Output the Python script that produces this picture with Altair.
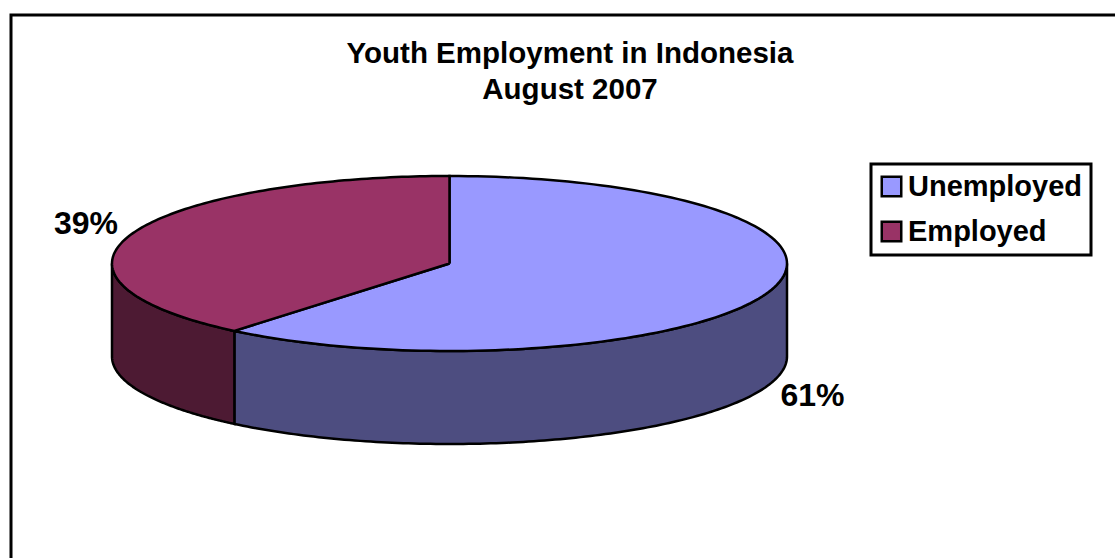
import numpy as np
import pandas as pd
import altair as alt

# Chart values
categories = ["Unemployed", "Employed"]
shares = [61, 39]
top_colors = ["#9999FF", "#993366"]
side_colors = ["#4D4D80", "#4D1A33"]
title_lines = ["Youth Employment in Indonesia", "August 2007"]

# Canvas and tilted-disc geometry, in pixels
W, H = 1115, 558
CX, CY, RX, RY, DEPTH = 449.5, 263.5, 337.5, 87.5, 93
FONT = "Liberation Sans"


def rim(a0, a1, drop=0.0):
    """Points on the disc edge, angles in degrees clockwise from 12 o'clock."""
    t = np.radians(np.linspace(a0, a1, 140))
    return list(zip(CX + RX * np.sin(t), CY - RY * np.cos(t) + drop))


def frame_of(points, **extra):
    df = pd.DataFrame(points, columns=["x", "y"])
    df["i"] = range(len(df))
    for key, val in extra.items():
        df[key] = val
    return df


split = 360 * shares[0] / sum(shares)

# Visible outer wall of each slice: front half of the disc only
wall_spans = [(90, split), (split, 270)]
walls = []
for span, colour in zip(wall_spans, side_colors):
    upper = rim(*span)
    lower = rim(*span, drop=DEPTH)
    walls.append((frame_of(upper + lower[::-1] + upper[:1]), colour))

# Top faces of the slices
centre = [(CX, CY)]
tops = pd.concat([
    frame_of(centre + rim(0, split) + centre, category=categories[0]),
    frame_of(centre + rim(split, 360) + centre, category=categories[1]),
])

x_enc = alt.X("x:Q", scale=alt.Scale(domain=[0, W], nice=False, zero=False), axis=None)
y_enc = alt.Y("y:Q", scale=alt.Scale(domain=[H, 0], nice=False, zero=False), axis=None)

border = alt.Chart(frame_of([(11, H), (11, 15), (W, 15)])).mark_line(
    color="black", strokeWidth=3, strokeJoin="miter"
).encode(x=x_enc, y=y_enc, order="i:Q")

wall_layers = [
    alt.Chart(df).mark_line(fill=colour, stroke="black", strokeWidth=2.5).encode(
        x=x_enc, y=y_enc, order="i:Q"
    )
    for df, colour in walls
]

top_layer = alt.Chart(tops).mark_line(stroke="black", strokeWidth=2.5).encode(
    x=x_enc,
    y=y_enc,
    order="i:Q",
    detail="category:N",
    fill=alt.Fill(
        "category:N",
        scale=alt.Scale(domain=categories, range=top_colors),
        legend=alt.Legend(
            title=None,
            orient="none",
            legendX=871,
            legendY=164,
            symbolType="square",
            symbolSize=380,
            symbolOffset=-2,
            symbolStrokeColor="black",
            symbolStrokeWidth=2.5,
            labelFont=FONT,
            labelFontWeight="bold",
            labelFontSize=29,
            labelColor="black",
            labelLimit=300,
            labelOffset=2,
            rowPadding=14,
            padding=8,
            fillColor="white",
            strokeColor="black",
        ),
    ),
)

label_df = pd.DataFrame({
    "x": [812.5, 86],
    "y": [396, 224],
    "text": [f"{s}%" for s in shares],
})
labels = alt.Chart(label_df).mark_text(
    font=FONT, fontWeight="bold", fontSize=32, color="black"
).encode(x=x_enc, y=y_enc, text="text:N")

title_df = pd.DataFrame({"x": [570, 570], "y": [54, 90], "text": title_lines})
titles = alt.Chart(title_df).mark_text(
    font=FONT, fontWeight="bold", fontSize=29.5, color="black"
).encode(x=x_enc, y=y_enc, text="text:N")

chart = alt.layer(border, *wall_layers, top_layer, labels, titles).properties(
    width=W,
    height=H,
    padding=0,
    autosize=alt.AutoSizeParams(type="none"),
    background="white",
).configure_view(stroke=None).configure_legend(strokeWidth=3)

chart.save("out.html", embed_options={"renderer": "svg", "actions": False})
